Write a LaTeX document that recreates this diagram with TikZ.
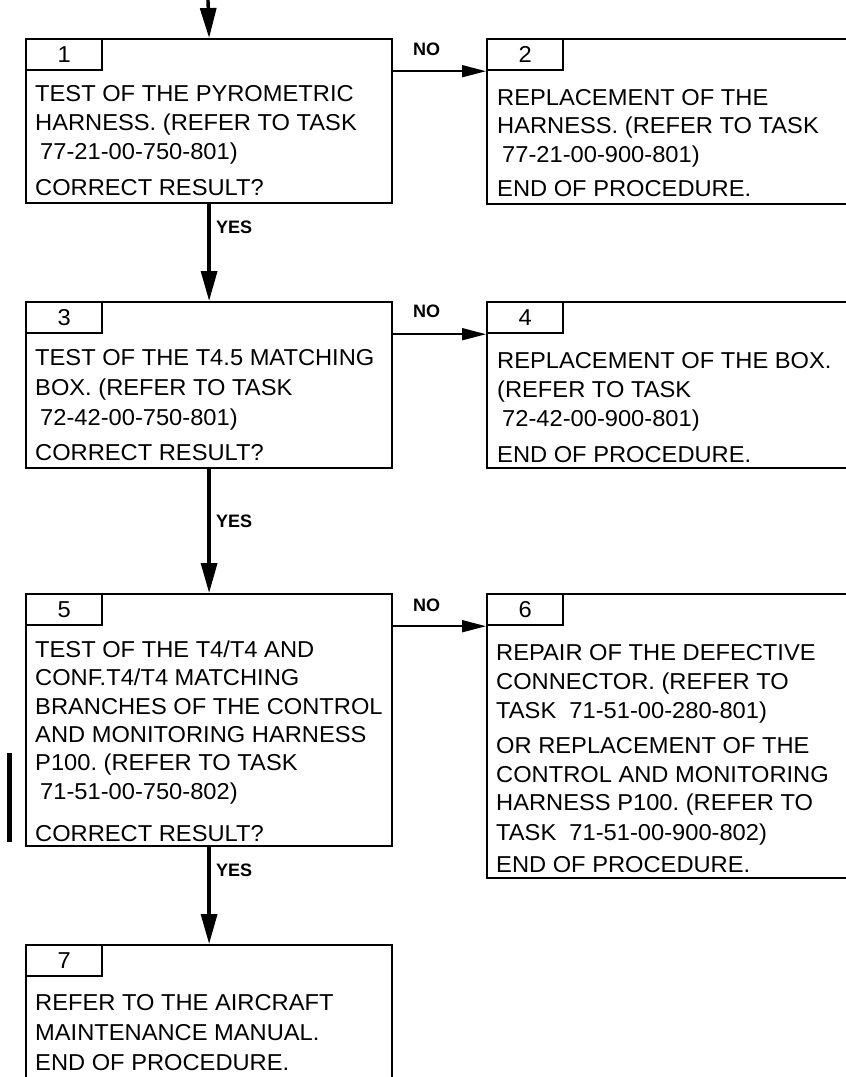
\documentclass[tikz,border=0pt]{standalone}
\usepackage{fontspec}
\setmainfont{Liberation Sans}[FakeStretch=1.03]
\newfontfamily\labelfont{Liberation Sans}
\usetikzlibrary{arrows.meta}
\frenchspacing
\begin{document}
\frenchspacing
\begin{tikzpicture}[x=1pt,y=-1pt,
  box/.style={draw, line width=2.2pt, anchor=north west, inner sep=0pt},
  tab/.style={draw, line width=2.2pt, anchor=north west, inner sep=0pt, minimum width=76pt, minimum height=31pt, font=\fontsize{23}{26}\selectfont},
  txt/.style={anchor=base west, inner sep=0pt, font=\fontsize{23}{26}\selectfont},
  lbl/.style={anchor=base west, inner sep=0pt, font=\labelfont\bfseries\fontsize{18}{20}\selectfont},
  varrow/.style={line width=3.4pt, -{Triangle[length=30pt,width=16pt]}},
  harrow/.style={line width=1.7pt, -{Triangle[length=24pt,width=12pt]}}]
\clip (0,0) rectangle (846,1077);
% boxes
\node[box, minimum width=366pt, minimum height=164pt] (b1) at (25,38) {};
\node[box, minimum width=420pt, minimum height=165pt] (b2) at (486,38) {};
\node[box, minimum width=366pt, minimum height=166pt] (b3) at (25,301) {};
\node[box, minimum width=420pt, minimum height=166pt] (b4) at (486,301) {};
\node[box, minimum width=366pt, minimum height=252pt] (b5) at (25,593) {};
\node[box, minimum width=420pt, minimum height=284pt] (b6) at (486,593) {};
\node[box, minimum width=366pt, minimum height=200pt] (b7) at (25,944) {};
% tabs
\node[tab] (n1) at (25,38) {1};
\node[tab] (n2) at (486,38) {2};
\node[tab] (n3) at (25,301) {3};
\node[tab] (n4) at (486,301) {4};
\node[tab] (n5) at (25,593) {5};
\node[tab] (n6) at (486,593) {6};
\node[tab] (n7) at (25,944) {7};
% box 1
\node[txt] (t1a) at (35,101) {TEST OF THE PYROMETRIC};
\node[txt] (t1b) at (35,130) {HARNESS. (REFER TO TASK};
\node[txt] (t1c) at (40,159) {77-21-00-750-801)};
\node[txt] (t1d) at (35,195) {CORRECT RESULT?};
% box 2
\node[txt] (t2a) at (497,105) {REPLACEMENT OF THE};
\node[txt] (t2b) at (497,133) {HARNESS. (REFER TO TASK};
\node[txt] (t2c) at (502,162) {77-21-00-900-801)};
\node[txt] (t2d) at (497,196) {END OF PROCEDURE.};
% box 3
\node[txt] (t3a) at (35,365) {TEST OF THE T4.5 MATCHING};
\node[txt] (t3b) at (35,395) {BOX. (REFER TO TASK};
\node[txt] (t3c) at (40,425) {72-42-00-750-801)};
\node[txt] (t3d) at (35,460) {CORRECT RESULT?};
% box 4
\node[txt] (t4a) at (497,368) {REPLACEMENT OF THE BOX.};
\node[txt] (t4b) at (497,397) {(REFER TO TASK};
\node[txt] (t4c) at (502,426) {72-42-00-900-801)};
\node[txt] (t4d) at (497,462) {END OF PROCEDURE.};
% box 5
\node[txt] (t5a) at (35,657) {TEST OF THE T4/T4 AND};
\node[txt] (t5b) at (35,685.5) {CONF.T4/T4 MATCHING};
\node[txt] (t5c) at (35,714) {BRANCHES OF THE CONTROL};
\node[txt] (t5d) at (35,742) {AND MONITORING HARNESS};
\node[txt] (t5e) at (35,770.5) {P100. (REFER TO TASK};
\node[txt] (t5f) at (40,799) {71-51-00-750-802)};
\node[txt] (t5g) at (35,841) {CORRECT RESULT?};
% box 6
\node[txt] (t6a) at (496,660) {REPAIR OF THE DEFECTIVE};
\node[txt] (t6b) at (496,689) {CONNECTOR. (REFER TO};
\node[txt] (t6c) at (496,718) {TASK\ \ 71-51-00-280-801)};
\node[txt] (t6d) at (496,753) {OR REPLACEMENT OF THE};
\node[txt] (t6e) at (496,782) {CONTROL AND MONITORING};
\node[txt] (t6f) at (496,810) {HARNESS P100. (REFER TO};
\node[txt] (t6g) at (496,840) {TASK\ \ 71-51-00-900-802)};
\node[txt] (t6h) at (496,872) {END OF PROCEDURE.};
% box 7
\node[txt] (t7a) at (35,1010) {REFER TO THE AIRCRAFT};
\node[txt] (t7b) at (35,1040) {MAINTENANCE MANUAL.};
\node[txt] (t7c) at (35,1070) {END OF PROCEDURE.};
% connectors
\coordinate (top) at (208,0);
\draw[varrow] (top) -- (b1.north);
\draw[varrow] (b1.south) -- (b3.north);
\draw[varrow] (b3.south) -- (b5.north);
\draw[varrow] (b5.south) -- (b7.north);
\draw[harrow] (n1.south -| b1.east) -- (n2.south west);
\draw[harrow] (n3.south -| b3.east) -- (n4.south west);
\draw[harrow] (n5.south -| b5.east) -- (n6.south west);
% labels
\node[lbl] (y1) at (216,233) {YES};
\node[lbl] (y2) at (216,527) {YES};
\node[lbl] (y3) at (216,876) {YES};
\node[lbl] (no1) at (413,55) {NO};
\node[lbl] (no2) at (413,317) {NO};
\node[lbl] (no3) at (413,611) {NO};
% change bar
\fill (7,753) rectangle (12,842);
\end{tikzpicture}
\end{document}
